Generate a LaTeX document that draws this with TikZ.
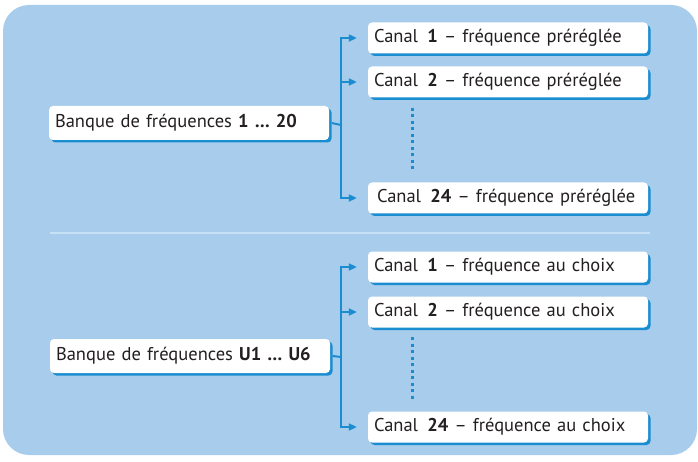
\documentclass[tikz,border=0pt]{standalone}
\usepackage{fontspec}
\setmainfont{PT Sans}
\usetikzlibrary{arrows.meta,shadows}
\definecolor{bgblue}{HTML}{A8CDEC}
\definecolor{lineblue}{HTML}{1A8DD0}
\definecolor{sepblue}{HTML}{C6E0F4}
\definecolor{txt}{HTML}{231F20}
\tikzset{
  box/.style={draw=none, fill=white, rounded corners=4pt, minimum width=280pt,
    minimum height=31pt, inner xsep=6pt, text width=268pt, align=left,
    font=\fontsize{18.5pt}{21pt}\selectfont, text=txt,
    drop shadow={shadow xshift=2.5pt, shadow yshift=-2.5pt, fill=lineblue, opacity=1}},
  bank/.style={box, minimum height=34pt},
  conn/.style={draw=lineblue, line width=2pt},
  arr/.style={conn, -{Triangle[length=8pt,width=7pt]}, shorten >=11pt},
  dots/.style={draw=lineblue, line width=3pt, dash pattern=on 3pt off 3.5pt},
}
\begin{document}
\begin{tikzpicture}[x=1pt,y=-1pt]
\useasboundingbox (0,0) rectangle (698,462);
\fill[bgblue, rounded corners=26pt] (3,5) rectangle (697,455);
\draw[sepblue, line width=2pt] (50,233) -- (650,233);

% top group
\node[bank] (b1) at (189,123) {Banque de fréquences \textbf{1 … 20}};
\node[box] (t1) at (508,38) {Canal\enspace\textbf{1} – fréquence préréglée};
\node[box] (t2) at (508,82) {Canal\enspace\textbf{2} – fréquence préréglée};
\node[box] (t3) at (508,198) {\hspace*{3pt}Canal\enspace\textbf{24} – fréquence préréglée};
\coordinate (j1) at (341,125);
\draw[conn] (b1.east) ++(2.5,0) -- (j1);
\draw[arr] (j1) |- (t1.west);
\draw[arr] (j1) |- (t2.west);
\draw[arr] (j1) |- (t3.west);
\coordinate (d1a) at (412,108);
\coordinate (d1b) at (412,172);
\draw[dots] (d1a) -- (d1b);

% bottom group
\node[bank] (b2) at (190,356) {Banque de fréquences \textbf{U1 … U6}};
\node[box] (u1) at (508,267) {Canal\enspace\textbf{1} – fréquence au choix};
\node[box] (u2) at (508,312) {Canal\enspace\textbf{2} – fréquence au choix};
\node[box] (u3) at (508,427) {Canal\enspace\textbf{24} – fréquence au choix};
\coordinate (j2) at (341,357);
\draw[conn] (b2.east) ++(2.5,0) -- (j2);
\draw[arr] (j2) |- (u1.west);
\draw[arr] (j2) |- (u2.west);
\draw[arr] (j2) |- (u3.west);
\coordinate (d2a) at (412,337);
\coordinate (d2b) at (412,401);
\draw[dots] (d2a) -- (d2b);
\end{tikzpicture}
\end{document}
